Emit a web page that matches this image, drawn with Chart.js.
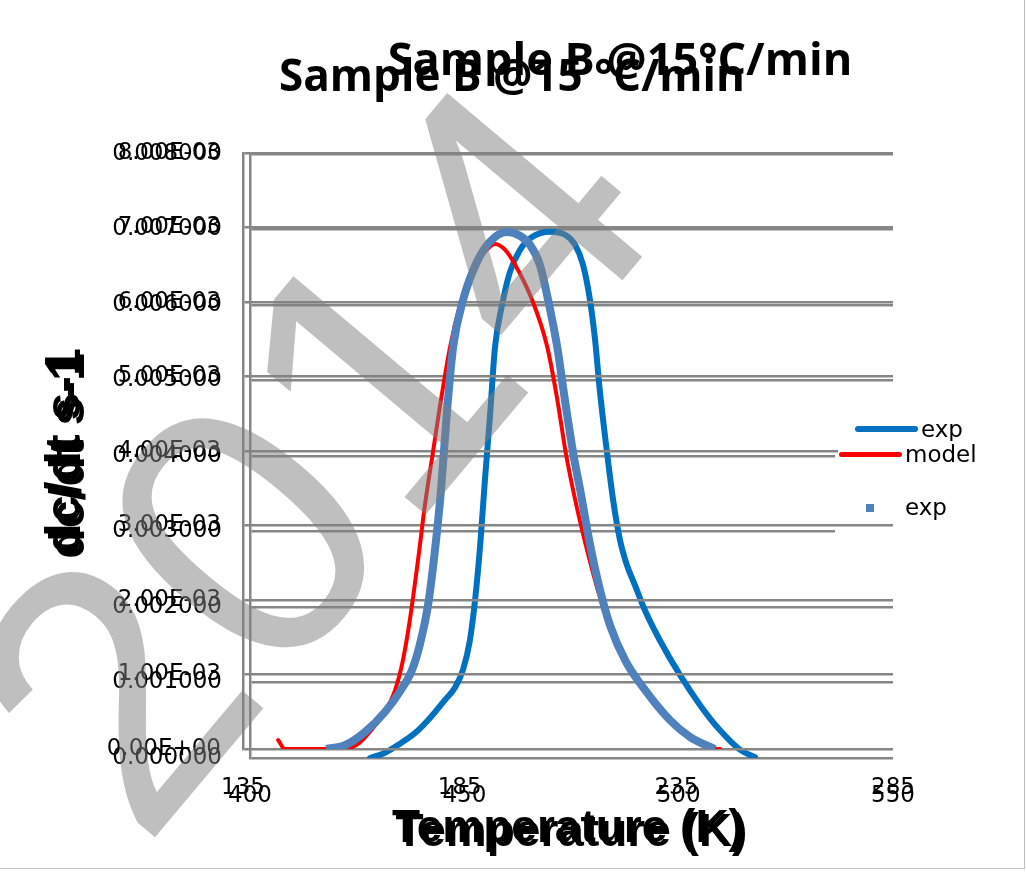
<!DOCTYPE html>
<html>
<head>
<meta charset="utf-8">
<script src="https://cdn.jsdelivr.net/npm/chart.js@4.4.1/dist/chart.umd.min.js"></script>
<style>
html,body{margin:0;padding:0;background:#fff;}
#wrap{position:relative;width:1026px;height:874px;overflow:hidden;background:#fff;}
#wrap canvas{position:absolute;left:0;top:0;}
.legbox{position:absolute;background:#fff;}
.legtxt{position:absolute;font-family:"DejaVu Sans";font-size:23px;line-height:26px;color:#000;white-space:nowrap;}
.legline{position:absolute;border-radius:3px;}
#wm{position:absolute;font-family:"Liberation Sans";font-size:370px;line-height:370px;color:rgba(128,128,128,0.5);white-space:nowrap;transform-origin:50% 50%;pointer-events:none;}
#frame{position:absolute;left:0;top:0;width:1024px;height:868px;border-right:1px solid #bfbfbf;border-bottom:1px solid #bfbfbf;pointer-events:none;}
</style>
</head>
<body>
<div id="wrap">
  <canvas id="cB" width="1026" height="874"></canvas>
  <div class="legbox" style="left:835px;top:415px;width:170px;height:125px;"></div>
  <div class="legline" style="left:855px;top:426px;width:63px;height:6px;background:#0070C0;"></div>
  <div class="legtxt" style="left:921px;top:416px;">exp</div>
  <canvas id="cA" width="1026" height="874"></canvas>
  <div class="legbox" style="left:838px;top:441px;width:165px;height:78px;"></div>
  <div class="legline" style="left:839px;top:452px;width:63px;height:5px;background:#FF0000;"></div>
  <div class="legtxt" style="left:905px;top:441px;">model</div>
  <div class="legline" style="left:866px;top:504px;width:8px;height:8px;border-radius:0;background:#4F81BD;"></div>
  <div class="legtxt" style="left:905px;top:494px;">exp</div>
  <div id="wm" style="left:-102px;top:269px;transform:rotate(-50deg);">2014</div>
  <div id="frame"></div>
</div>
<script>
// ---------- data ----------
// Chart A (°C axis): model (red line) and exp (square markers)
const modelT = [143.1,144.7,158.5,162.0,165.0,167.8,170.1,171.9,173.5,175.4,177.0,178.8,180.5,182.8,185.1,187.4,190.2,193.2,195.5,197.8,201.7,205.2,207.5,209.5,211.9,214.4,216.9,219.7,223.2,227.8,232.4,238.2,242.8,245.1];
const modelY = [0.00012,0,0,0.00009,0.00028,0.00050,0.00079,0.00119,0.00173,0.00254,0.00328,0.00397,0.00462,0.00540,0.00596,0.00636,0.00663,0.00678,0.00670,0.00650,0.00603,0.00540,0.00470,0.00397,0.00328,0.00267,0.00213,0.00166,0.00119,0.00079,0.00046,0.00015,0.00001,0];
const expCT = [154.2,158.5,163.2,167.8,171.2,174.0,175.8,177.7,179.3,180.7,182.1,183.5,185.8,189.0,192.0,195.9,198.9,201.2,203.5,205.4,207.5,209.3,211.2,212.8,215.1,217.4,219.7,223.2,227.8,233.5,238.2,243.9];
const expCY = [0,0.00005,0.00023,0.00050,0.00077,0.00106,0.00140,0.00193,0.00267,0.00348,0.00455,0.00540,0.00603,0.00654,0.00681,0.00694,0.00689,0.00677,0.00650,0.00603,0.00540,0.00468,0.00397,0.00348,0.00274,0.00213,0.00166,0.00119,0.00079,0.00039,0.00016,0];
// Chart B (K axis): exp (blue line)
const expKT = [428.0,431.5,435.0,438.5,442.0,445.5,447.8,449.7,451.3,452.5,453.7,454.8,456.0,457.15,458.8,460.65,463.0,465.8,470.0,473.5,475.8,477.7,479.3,480.5,481.6,483.3,484.7,486.3,487.9,489.8,492.1,495.6,500.3,505.0,509.6,514.3,517.8];
const expKY = [0,0.00007,0.00019,0.00033,0.00053,0.00077,0.00093,0.00117,0.00156,0.00209,0.00282,0.00368,0.00454,0.00544,0.00600,0.00644,0.00673,0.00690,0.00697,0.00693,0.00680,0.00653,0.00607,0.00554,0.00487,0.00404,0.00342,0.00289,0.00256,0.00229,0.00196,0.00156,0.00110,0.00070,0.00037,0.00011,0.00001];
// ticks
const yTickValues = [0,0.001,0.002,0.003,0.004,0.005,0.006,0.007,0.008];
const yTickLabelsA = ['0.00E+00','1.00E-03','2.00E-03','3.00E-03','4.00E-03','5.00E-03','6.00E-03','7.00E-03','8.00E-03'];
const yTickLabelsB = ['0.000000','0.001000','0.002000','0.003000','0.004000','0.005000','0.006000','0.007000','0.008000'];
const xTickValuesA = [135,185,235,285];
const xTickLabelsA = ['135','185','235','285'];
const xTickValuesB = [400,450,500,550];
const xTickLabelsB = ['400','450','500','550'];
const titleA = 'Sample B @15 °C/min';
const titleB = 'Sample B @15°C/min';
const xTitle = 'Temperature (K)';
const yTitle = 'dc/dt s-1';

// ---------- helpers ----------
const pts = (xs, ys) => xs.map((x, i) => ({x: x, y: ys[i]}));
const fixedTitle = {
  id: 'fixedTitle',
  afterDraw(chart, args, o) {
    const ctx = chart.ctx;
    ctx.save();
    ctx.font = o.font;
    ctx.fillStyle = '#000';
    ctx.textAlign = 'center';
    ctx.textBaseline = 'alphabetic';
    ctx.fillText(o.text, o.x, o.y, o.maxWidth);
    ctx.restore();
  }
};
const gridColor = '#868686';

function makeChart(id, cfg) {
  return new Chart(document.getElementById(id), {
    type: 'scatter',
    data: {datasets: cfg.datasets},
    plugins: [fixedTitle],
    options: {
      responsive: false,
      animation: false,
      devicePixelRatio: 1,
      layout: {padding: {left: 0, top: cfg.top, right: 1026 - cfg.right, bottom: 0}},
      plugins: {
        legend: {display: false},
        tooltip: {enabled: false},
        fixedTitle: cfg.title
      },
      scales: {
        x: {
          type: 'linear', min: cfg.xTicks[0], max: cfg.xTicks[cfg.xTicks.length - 1],
          afterFit: s => { s.height = 874 - cfg.bottom; },
          afterBuildTicks: s => { s.ticks = cfg.xTicks.map(v => ({value: v})); },
          ticks: {callback: (v, i) => cfg.xLabels[i], color: '#000', padding: cfg.xPad, maxRotation: 0, autoSkip: false,
                  font: {family: 'DejaVu Sans', size: 23}},
          grid: {display: false, drawTicks: false},
          border: {display: false},
          title: {display: true, text: xTitle, color: '#000', padding: {top: 0, bottom: cfg.xTitlePad},
                  font: {family: 'Liberation Sans', size: 46, weight: 'bold'}}
        },
        y: {
          type: 'linear', min: 0, max: 0.008,
          afterFit: s => { s.width = cfg.left; },
          afterBuildTicks: s => { s.ticks = yTickValues.map(v => ({value: v})); },
          ticks: {callback: (v, i) => cfg.yLabels[i], color: '#000', padding: cfg.yPad, autoSkip: false,
                  font: {family: 'DejaVu Sans', size: 23}},
          grid: {color: gridColor, lineWidth: 2.5, drawTicks: false},
          border: {display: true, color: gridColor, width: 2.5},
          title: {display: true, text: yTitle, color: '#000', padding: {top: cfg.yTitlePad, bottom: 0},
                  font: {family: 'Liberation Sans', size: 50, weight: 'bold'}}
        }
      }
    }
  });
}

const lineDs = (label, xs, ys, color, width, order) => ({
  label: label, data: pts(xs, ys), showLine: true, order: order,
  borderColor: color, backgroundColor: color, borderWidth: width, pointRadius: 0,
  cubicInterpolationMode: 'monotone', borderCapStyle: 'round', borderJoinStyle: 'round'
});

// Chart B (underneath): blue exp line on K axis
makeChart('cB', {
  left: 250, right: 893, top: 154, bottom: 758,
  xTicks: xTickValuesB, xLabels: xTickLabelsB, yLabels: yTickLabelsB,
  xPad: 24, yPad: 28, xTitlePad: 13, yTitlePad: 40,
  title: {text: titleB, x: 620, y: 75, font: 'bold 45px "Open Sans"', maxWidth: 470},
  datasets: [lineDs('exp', expKT, expKY, '#0070C0', 6, 0)]
});

// Chart A (on top): model (red) + exp squares on °C axis
makeChart('cA', {
  left: 243, right: 893, top: 153, bottom: 749,
  xTicks: xTickValuesA, xLabels: xTickLabelsA, yLabels: yTickLabelsA,
  xPad: 25, yPad: 22, xTitlePad: 17, yTitlePad: 36,
  title: {text: titleA, x: 512, y: 91, font: 'bold 45px "Open Sans"', maxWidth: 466},
  datasets: [
    Object.assign(lineDs('exp', expCT, expCY, '#4F81BD', 8, 0), {pointStyle: 'rect', borderCapStyle: 'butt'}),
    lineDs('model', modelT, modelY, '#FF0000', 4, 1)
  ]
});
</script>
</body>
</html>
